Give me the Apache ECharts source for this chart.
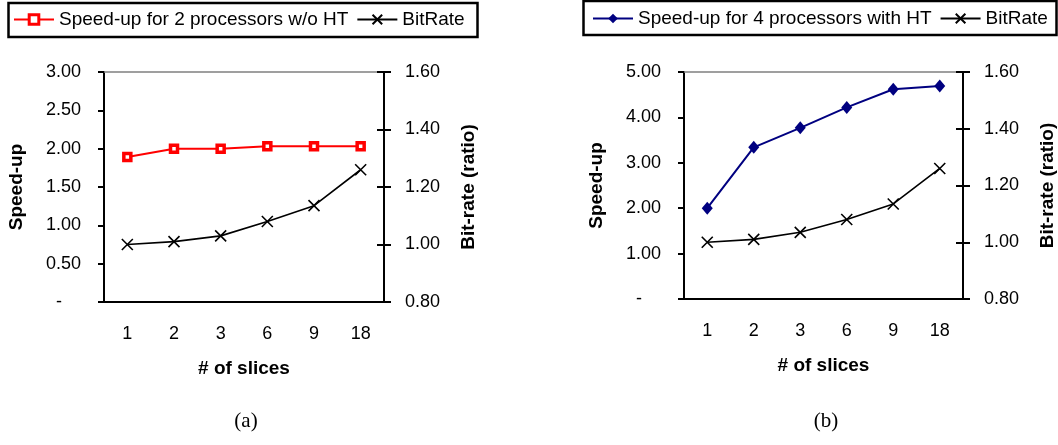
<!DOCTYPE html>
<html>
<head>
<meta charset="utf-8">
<script src="https://cdn.jsdelivr.net/npm/echarts@6/dist/echarts.min.js"></script>
<style>
  html, body { margin: 0; padding: 0; background: #fff; }
  #chart { width: 1058px; height: 445px; }
</style>
</head>
<body>
<div id="chart"></div>
<script>
// values
var slices = ['1', '2', '3', '6', '9', '18'];
var speedup2 = [1.89, 2.00, 2.00, 2.03, 2.03, 2.03];
var bitrateA = [1.00, 1.01, 1.03, 1.08, 1.135, 1.26];
var speedup4 = [2.00, 3.34, 3.77, 4.22, 4.62, 4.69];
var bitrateB = [1.00, 1.01, 1.035, 1.08, 1.135, 1.26];

var FONT = 'Liberation Sans, Arial, sans-serif';
var xMark = 'path://M0,0L10,10M10,0L0,10';

var grids = [
    {left: 104, top: 72, width: 280, height: 230},
    {left: 684, top: 72, width: 280, height: 227}
];

function xAxes(gi) {
    return [
        {
            type: 'category', gridIndex: gi, position: 'bottom', data: slices,
            name: '# of slices', nameLocation: 'middle', nameGap: 57,
            nameTextStyle: {fontFamily: FONT, fontSize: 19, fontWeight: 'bold', color: '#000'},
            axisLine: {lineStyle: {color: '#000', width: 2}},
            axisTick: {length: 6, lineStyle: {color: '#000', width: 2}},
            axisLabel: {margin: 23, fontFamily: FONT, fontSize: 18, color: '#000'}
        },
        {
            // inside half of the crossing ticks
            type: 'category', gridIndex: gi, position: 'bottom', data: slices,
            axisLine: {show: false},
            axisTick: {inside: true, length: 6, lineStyle: {color: '#000', width: 2}},
            axisLabel: {show: false}
        },
        {
            // grey plot border on top
            type: 'category', gridIndex: gi, position: 'top', data: slices,
            axisLine: {lineStyle: {color: '#808080', width: 1.5}},
            axisTick: {show: false},
            axisLabel: {show: false}
        }
    ];
}

function yAxes(gi, max, step) {
    return [
        {
            type: 'value', gridIndex: gi, position: 'left', min: 0, max: max, interval: step,
            name: 'Speed-up', nameLocation: 'middle', nameGap: 78, nameRotate: 90,
            nameTextStyle: {fontFamily: FONT, fontSize: 19, fontWeight: 'bold', color: '#000'},
            axisLine: {show: true, lineStyle: {color: '#000', width: 2}},
            axisTick: {show: true, length: 6, lineStyle: {color: '#000', width: 2}},
            splitLine: {show: false},
            axisLabel: {
                margin: 23, fontFamily: FONT, fontSize: 18, color: '#000',
                formatter: function (v) { return v === 0 ? '{d|-}' : v.toFixed(2); },
                rich: {d: {fontFamily: FONT, fontSize: 18, color: '#000', padding: [0, 19, 0, 0]}}
            }
        },
        {
            type: 'value', gridIndex: gi, position: 'right', min: 0.8, max: 1.6, interval: 0.2,
            name: 'Bit-rate (ratio)', nameLocation: 'middle', nameGap: 75, nameRotate: 90,
            nameTextStyle: {fontFamily: FONT, fontSize: 19, fontWeight: 'bold', color: '#000'},
            axisLine: {show: true, lineStyle: {color: '#000', width: 2}},
            axisTick: {show: true, length: 7, lineStyle: {color: '#000', width: 2}},
            splitLine: {show: false},
            axisLabel: {
                margin: 21, fontFamily: FONT, fontSize: 18, color: '#000',
                formatter: function (v) { return v.toFixed(2); }
            }
        },
        {
            type: 'value', gridIndex: gi, position: 'right', min: 0.8, max: 1.6, interval: 0.2,
            axisLine: {show: false},
            axisTick: {show: true, inside: true, length: 7, lineStyle: {color: '#000', width: 2}},
            splitLine: {show: false},
            axisLabel: {show: false}
        }
    ];
}

function bitrateSeries(data, gi) {
    return {
        name: 'BitRate', type: 'line', data: data,
        xAxisIndex: gi * 3, yAxisIndex: gi * 3 + 1,
        symbol: xMark, symbolSize: 11,
        lineStyle: {color: '#000', width: 1.6},
        itemStyle: {color: 'rgba(0,0,0,0)', borderColor: '#000', borderWidth: 1.6}
    };
}

var legendText = {fontFamily: FONT, fontSize: 19, color: '#000'};

var option = {
    animation: false,
    backgroundColor: '#fff',
    grid: grids,
    xAxis: xAxes(0).concat(xAxes(1)),
    yAxis: yAxes(0, 3, 0.5).concat(yAxes(1, 5, 1)),
    legend: [
        {
            left: 13, top: 10, padding: 0, itemGap: 8, itemWidth: 40, itemHeight: 12,
            textStyle: legendText,
            data: [
                {name: 'Speed-up for 2 processors w/o HT',
                    itemStyle: {color: '#fff', borderColor: '#ff0000', borderWidth: 3}},
                'BitRate'
            ]
        },
        {
            left: 592, top: 9, padding: 0, itemGap: 8, itemWidth: 40, itemHeight: 12,
            textStyle: legendText,
            data: ['Speed-up for 4 processors with HT', 'BitRate']
        }
    ],
    series: [
        {
            name: 'Speed-up for 2 processors w/o HT', type: 'line', data: speedup2,
            xAxisIndex: 0, yAxisIndex: 0,
            symbol: 'rect', symbolSize: 7,
            lineStyle: {color: '#ff0000', width: 2},
            itemStyle: {color: '#fff', borderColor: '#ff0000', borderWidth: 3.5}
        },
        bitrateSeries(bitrateA, 0),
        {
            name: 'Speed-up for 4 processors with HT', type: 'line', data: speedup4,
            xAxisIndex: 3, yAxisIndex: 3,
            symbol: 'diamond', symbolSize: [11, 13],
            lineStyle: {color: '#000080', width: 2},
            itemStyle: {color: '#000080'}
        },
        bitrateSeries(bitrateB, 1)
    ],
    graphic: [
        {type: 'rect', shape: {x: 8.5, y: 3, width: 469, height: 34},
            style: {fill: 'none', stroke: '#000', lineWidth: 2.5}, z: -1},
        {type: 'rect', shape: {x: 583.5, y: 1, width: 473, height: 34},
            style: {fill: 'none', stroke: '#000', lineWidth: 2.5}, z: -1},
        {type: 'text', x: 246, y: 421,
            style: {text: '(a)', font: '21px "Liberation Serif", "Times New Roman", serif',
                fill: '#000', textAlign: 'center', textVerticalAlign: 'middle'}},
        {type: 'text', x: 826, y: 421,
            style: {text: '(b)', font: '21px "Liberation Serif", "Times New Roman", serif',
                fill: '#000', textAlign: 'center', textVerticalAlign: 'middle'}}
    ]
};

var chart = echarts.init(document.getElementById('chart'));
chart.setOption(option);
</script>
</body>
</html>
